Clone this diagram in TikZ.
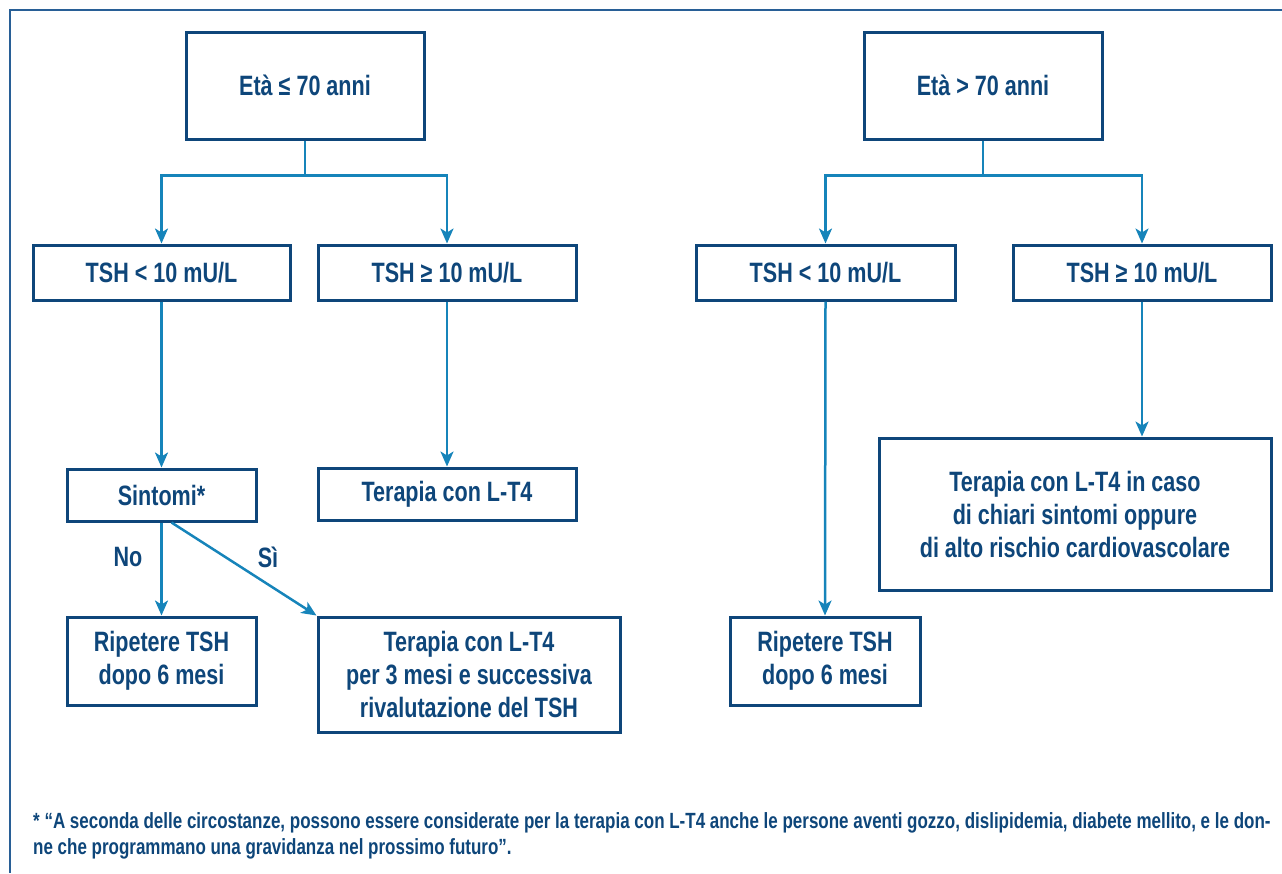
\documentclass[tikz,border=0pt]{standalone}
\usepackage{fontspec}
\setmainfont[FakeStretch=0.77]{Liberation Sans}
\newfontfamily\notefont[FakeStretch=0.772]{Liberation Sans}
\usetikzlibrary{arrows.meta}
\definecolor{navy}{RGB}{14,70,122}
\definecolor{sky}{RGB}{22,132,186}
\definecolor{framec}{RGB}{40,95,150}
\begin{document}
\begin{tikzpicture}[x=1pt,y=-1pt,
  box/.style 2 args={draw=navy,line width=3pt,text=navy,minimum width=#1pt,minimum height=#2pt,inner sep=0pt,align=center,font=\fontsize{28}{33}\selectfont\bfseries},
  arr/.style={draw=sky,line width=2.5pt,-{Stealth[length=15pt,width=13pt,inset=4pt]}},
  lab/.style={text=navy,font=\fontsize{28}{33}\selectfont\bfseries}]
\useasboundingbox (0,0) rectangle (1282,873);
\draw[framec,line width=1.5pt] (1282,10) -- (10,10) -- (10,873);
\node[box={238}{107}] (etaA) at (305,85.5) {Età ≤ 70 anni};
\node[box={238}{107}] (etaB) at (983,85.5) {Età > 70 anni};
\node[box={257}{55}] (tshLa) at (161.5,272.5) {TSH < 10 mU/L};
\node[box={258}{55}] (tshHa) at (447,272.5) {TSH ≥ 10 mU/L};
\node[box={259}{55}] (tshLb) at (825.5,272.5) {TSH < 10 mU/L};
\node[box={258}{55}] (tshHb) at (1142,272.5) {TSH ≥ 10 mU/L};
\node[box={189}{52}] (sint) at (161.5,495) {Sintomi*};
\node[box={258}{52}] (terA) at (447,494) {Terapia con L-T4};
\node[box={189}{88}] (ripA) at (161.5,661) {Ripetere TSH\\dopo 6 mesi};
\node[box={302}{115}] (terB) at (469,674.5) {Terapia con L-T4\\per 3 mesi e successiva\\rivalutazione del TSH};
\node[box={190}{88}] (ripB) at (825,661) {Ripetere TSH\\dopo 6 mesi};
\node[box={392}{152}] (terC) at (1075,514) {Terapia con L-T4 in caso\\di chiari sintomi oppure\\di alto rischio cardiovascolare};
\foreach \a/\b in {etaA/tshLa,etaA/tshHa,etaB/tshLb,etaB/tshHb}{\draw[arr] (\a.south) -- ++(0,35) -| (\b.north);}
\foreach \a/\b in {tshLa/sint,tshHa/terA,tshLb/ripB,sint/ripA}{\draw[arr] (\a.south) -- (\b.north);}
\draw[arr] (tshHb.south) -- (tshHb.south |- terC.north);
\draw[arr] ([xshift=10pt]sint.south) -- (terB.north west);
\node[lab] (lNo) at (128,557) {No};
\node[lab] (lSi) at (268,557) {Sì};
\node[anchor=west,align=left,inner sep=0pt,text=navy,font=\notefont\fontsize{22}{26}\selectfont\bfseries] (note) at (33,836) {* “A seconda delle circostanze, possono essere considerate per la terapia con L-T4 anche le persone aventi gozzo, dislipidemia, diabete mellito, e le don-\\ne che programmano una gravidanza nel prossimo futuro”.};
\end{tikzpicture}
\end{document}
